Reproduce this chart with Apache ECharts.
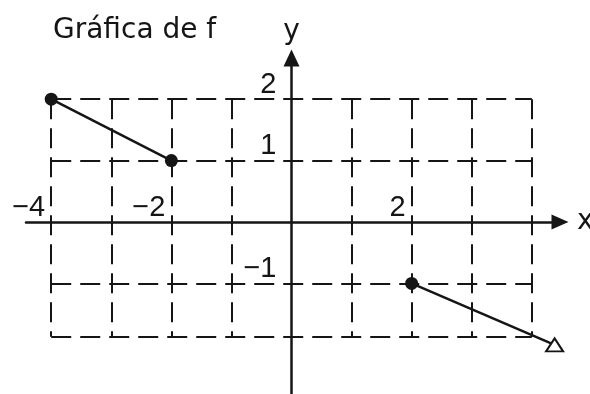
<!DOCTYPE html>
<html>
<head>
<meta charset="utf-8">
<script src="https://cdn.jsdelivr.net/npm/echarts@6/dist/echarts.min.js"></script>
<style>
  html, body { margin: 0; padding: 0; background: #fff; }
  #chart { width: 590px; height: 394px; }
</style>
</head>
<body>
<div id="chart"></div>
<script>
// Gráfica de f

var leftPiece = [[-4, 2], [-2, 1]];
var rightPiece = [[2, -1], [4.38, -2]];
var gridXs = [-4, -3, -2, -1, 1, 2, 3, 4];
var gridYs = [2, 1, -1, -1.87];
var xTickLabels = [-4, -2, 2];
var yTickLabels = [2, 1, -1];

var ink = '#151515';
var font = '"Liberation Sans", Arial, sans-serif';
var wideFont = '"DejaVu Sans", sans-serif';

function minus(v) {
  return String(v).replace('-', '\u2212');
}

// dashed grid lines, built from the grid positions
var gridLines = [];
gridXs.forEach(function (x) {
  gridLines.push([{ coord: [x, gridYs[0]] }, { coord: [x, gridYs[gridYs.length - 1]] }]);
});
gridYs.forEach(function (y) {
  gridLines.push([{ coord: [gridXs[0], y] }, { coord: [gridXs[gridXs.length - 1], y] }]);
});

var labelStyle = { color: ink, fontSize: 29, fontFamily: font };

var myChart = echarts.init(document.getElementById('chart'));
var option = {
  animation: false,
  title: {
    text: 'Gráfica de f',
    left: 48,
    top: 12,
    textStyle: { color: ink, fontSize: 28, fontWeight: 'normal', fontFamily: wideFont }
  },
  grid: { left: 26, right: 30, top: 58, bottom: 0, containLabel: false, outerBoundsMode: 'none' },
  xAxis: {
    type: 'value',
    min: -4.42,
    max: 4.47,
    name: 'x',
    nameGap: 17,
    nameTextStyle: { color: ink, fontSize: 28, fontFamily: wideFont },
    axisLine: {
      onZero: true,
      symbol: ['none', 'triangle'],
      symbolSize: [15, 17],
      lineStyle: { color: ink, width: 2.5 }
    },
    axisTick: { show: false },
    splitLine: { show: false },
    axisLabel: { show: false }
  },
  yAxis: {
    type: 'value',
    min: -2.8,
    max: 2.67,
    name: 'y',
    nameGap: 12,
    nameTextStyle: { color: ink, fontSize: 28, fontFamily: wideFont },
    axisLine: {
      onZero: true,
      symbol: ['none', 'triangle'],
      symbolSize: [16, 17],
      lineStyle: { color: ink, width: 2.5 }
    },
    axisTick: { show: false },
    splitLine: { show: false },
    axisLabel: { show: false }
  },
  series: [
    {
      type: 'line',
      data: leftPiece,
      symbol: 'circle',
      symbolSize: 13,
      itemStyle: { color: ink },
      lineStyle: { color: ink, width: 2.5 },
      z: 5,
      markLine: {
        silent: true,
        symbol: 'none',
        label: { show: false },
        lineStyle: { color: ink, width: 2, type: [20, 9] },
        data: gridLines
      }
    },
    {
      type: 'line',
      data: [
        { value: rightPiece[0], symbol: 'circle', symbolSize: 13 },
        {
          value: rightPiece[1],
          symbol: 'triangle',
          symbolSize: [17, 13],
          itemStyle: { color: '#fff', borderColor: ink, borderWidth: 2 }
        }
      ],
      itemStyle: { color: ink },
      lineStyle: { color: ink, width: 2.5 },
      z: 5
    },
    // tick numbers sitting on the x axis, left of their grid line
    {
      type: 'scatter',
      symbolSize: 0,
      silent: true,
      itemStyle: { color: ink, opacity: 1 },
      data: xTickLabels.map(function (v) { return [v, 0]; }),
      label: Object.assign({
        show: true,
        position: [-6, 0],
        align: 'right',
        verticalAlign: 'bottom',
        formatter: function (p) { return minus(p.value[0]); }
      }, labelStyle)
    },
    // tick numbers left of the y axis, above their grid line
    {
      type: 'scatter',
      symbolSize: 0,
      silent: true,
      itemStyle: { color: ink, opacity: 1 },
      data: yTickLabels.map(function (v) { return [0, v]; }),
      label: Object.assign({
        show: true,
        position: [-15, 0],
        align: 'right',
        verticalAlign: 'bottom',
        formatter: function (p) { return minus(p.value[1]); }
      }, labelStyle)
    }
  ]
};
myChart.setOption(option);
</script>
</body>
</html>
